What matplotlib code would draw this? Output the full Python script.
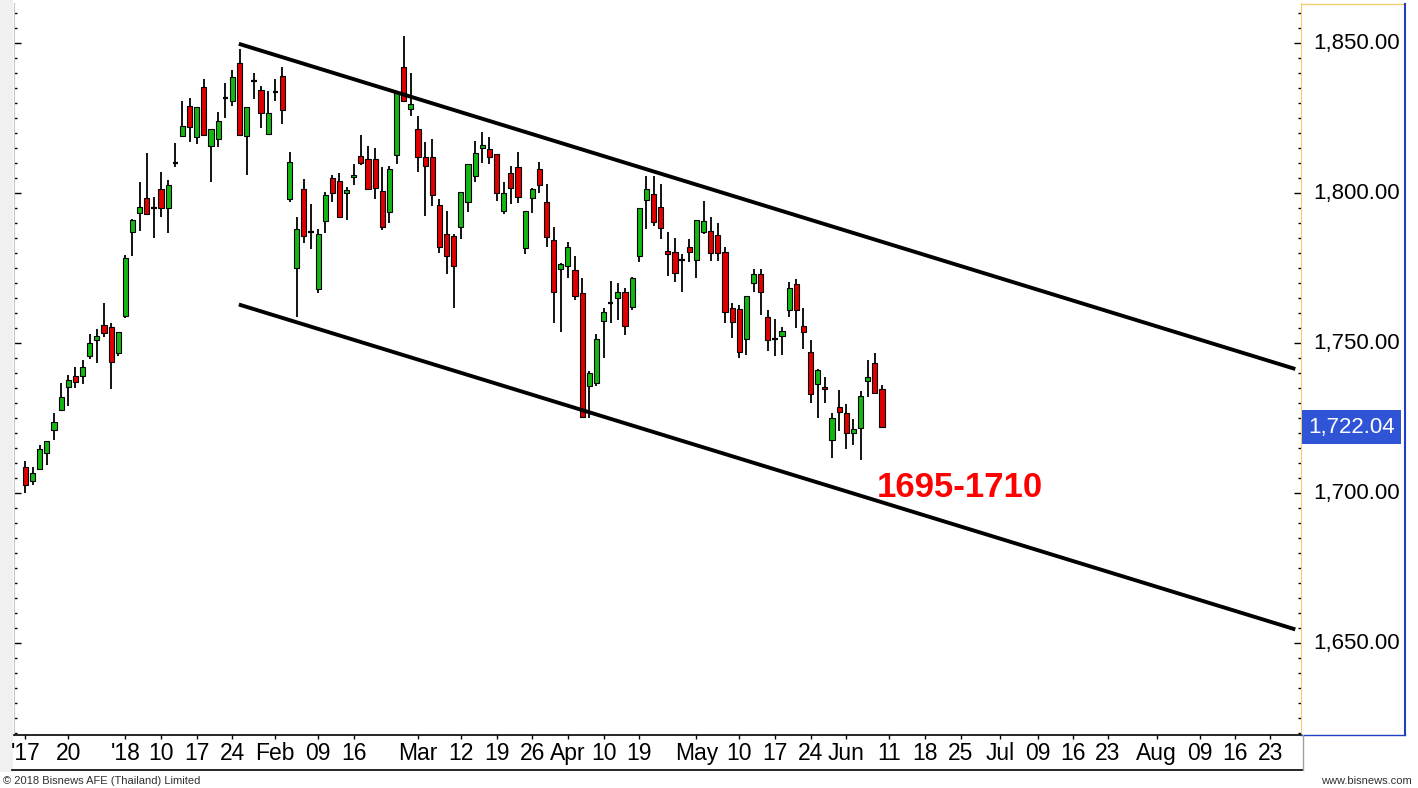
import numpy as np
import matplotlib
matplotlib.use("Agg")
import matplotlib.pyplot as plt
from matplotlib.ticker import MultipleLocator, FixedLocator, FuncFormatter
from matplotlib.transforms import blended_transform_factory
from matplotlib.lines import Line2D
from matplotlib.patches import Rectangle

# ---------------- data ----------------
opens = [1708.9, 1704.2, 1708.1, 1713.5, 1721.1, 1727.6, 1735.5, 1739.2, 1739.2, 1745.6,
         1751.1, 1756.0, 1755.5, 1746.7, 1759.2, 1787.1, 1793.4, 1798.3, 1795.0, 1801.4,
         1795.0, 1810.0, 1819.2, 1829.0, 1818.7, 1835.5, 1815.8, 1818.0, 1831.9, 1830.9,
         1843.3, 1819.1, 1837.5, 1834.4, 1819.9, 1833.7, 1839.2, 1798.0, 1775.0, 1801.4,
         1787.2, 1768.0, 1790.8, 1805.0, 1804.1, 1800.0, 1805.3, 1812.4, 1811.4, 1811.4,
         1800.8, 1793.7, 1812.7, 1842.0, 1828.1, 1821.4, 1812.2, 1812.2, 1796.1, 1786.3,
         1785.6, 1788.9, 1797.2, 1805.8, 1815.0, 1814.6, 1813.0, 1794.2, 1806.9, 1808.9,
         1781.7, 1798.3, 1808.2, 1797.1, 1784.4, 1774.8, 1775.6, 1774.4, 1766.7, 1735.8,
         1736.7, 1757.5, 1763.5, 1765.2, 1767.0, 1762.0, 1779.2, 1797.8, 1799.7, 1795.5,
         1780.8, 1780.3, 1777.8, 1782.2, 1777.6, 1787.0, 1787.3, 1786.0, 1780.3, 1761.7,
         1761.3, 1751.3, 1770.2, 1773.0, 1758.9, 1751.4, 1752.4, 1761.1, 1769.7, 1755.8,
         1747.2, 1736.4, 1735.5, 1717.8, 1728.9, 1726.7, 1720.0, 1721.7, 1737.4, 1743.3,
         1734.8]
highs = [1710.8, 1708.7, 1716.1, 1717.5, 1726.9, 1736.7, 1739.4, 1742.0, 1744.4, 1753.0,
         1754.6, 1763.3, 1756.7, 1753.8, 1779.4, 1791.5, 1803.9, 1813.3, 1798.9, 1807.0,
         1804.4, 1816.7, 1830.8, 1831.7, 1828.7, 1838.0, 1821.4, 1827.2, 1836.7, 1841.1,
         1848.0, 1828.7, 1840.0, 1835.8, 1834.1, 1838.0, 1842.0, 1813.9, 1792.0, 1804.7,
         1796.3, 1788.0, 1800.4, 1806.1, 1806.7, 1802.0, 1809.8, 1819.4, 1815.6, 1815.0,
         1808.7, 1809.1, 1833.3, 1852.5, 1840.2, 1825.6, 1817.0, 1818.0, 1798.0, 1794.2,
         1786.4, 1800.3, 1809.8, 1817.4, 1820.5, 1818.7, 1813.0, 1803.9, 1809.1, 1813.7,
         1794.2, 1801.7, 1810.5, 1803.0, 1788.9, 1776.9, 1783.9, 1779.1, 1771.7, 1740.9,
         1753.1, 1761.7, 1770.6, 1770.0, 1768.3, 1772.0, 1795.0, 1805.8, 1805.8, 1803.1,
         1787.2, 1785.2, 1779.8, 1784.7, 1791.1, 1797.4, 1792.2, 1790.0, 1782.0, 1763.3,
         1762.8, 1765.9, 1774.8, 1774.8, 1761.1, 1758.0, 1755.5, 1770.3, 1771.3, 1761.9,
         1751.1, 1741.3, 1738.9, 1726.7, 1734.4, 1729.8, 1724.7, 1734.2, 1744.4, 1746.7,
         1736.1]
lows = [1700.2, 1702.8, 1707.6, 1709.4, 1717.6, 1727.6, 1729.1, 1735.0, 1736.3, 1744.7,
        1743.5, 1752.2, 1734.7, 1745.8, 1758.3, 1779.2, 1787.4, 1793.1, 1785.0, 1792.0,
        1786.7, 1808.9, 1818.9, 1817.0, 1816.3, 1819.4, 1803.7, 1815.3, 1825.0, 1829.2,
        1819.4, 1806.1, 1831.4, 1821.7, 1819.9, 1830.9, 1823.0, 1797.1, 1758.7, 1783.3,
        1781.3, 1766.9, 1786.7, 1797.2, 1792.2, 1791.1, 1802.8, 1809.4, 1801.3, 1798.0,
        1787.8, 1790.2, 1809.7, 1830.6, 1825.8, 1807.2, 1792.4, 1795.6, 1780.2, 1773.0,
        1761.9, 1784.7, 1793.9, 1803.6, 1810.0, 1809.7, 1797.5, 1793.1, 1796.4, 1796.9,
        1779.8, 1793.3, 1800.2, 1782.2, 1756.9, 1753.9, 1771.7, 1764.4, 1725.3, 1725.0,
        1735.6, 1745.0, 1756.7, 1757.8, 1752.8, 1761.1, 1777.2, 1788.1, 1789.1, 1784.7,
        1772.5, 1770.3, 1767.2, 1777.0, 1771.7, 1786.3, 1777.4, 1777.4, 1756.9, 1751.7,
        1745.0, 1746.1, 1767.2, 1759.4, 1747.4, 1745.6, 1746.1, 1758.9, 1755.0, 1748.0,
        1730.0, 1725.2, 1730.0, 1711.9, 1720.6, 1714.8, 1716.1, 1711.1, 1732.2, 1733.1,
        1722.0]
closes = [1702.8, 1706.9, 1714.8, 1717.5, 1723.7, 1732.2, 1737.9, 1737.0, 1742.0, 1750.2,
          1752.4, 1753.3, 1743.8, 1753.8, 1778.5, 1791.1, 1795.5, 1793.1, 1795.0, 1795.2,
          1802.8, 1810.0, 1822.5, 1822.2, 1828.7, 1819.4, 1821.4, 1824.0, 1831.9, 1838.9,
          1819.4, 1828.7, 1837.5, 1826.9, 1826.9, 1833.7, 1827.8, 1810.3, 1788.2, 1785.9,
          1787.2, 1786.3, 1799.3, 1800.2, 1792.2, 1801.0, 1806.0, 1810.0, 1801.3, 1801.7,
          1788.9, 1808.2, 1833.3, 1830.6, 1829.9, 1812.2, 1809.1, 1799.4, 1782.0, 1779.1,
          1775.8, 1800.3, 1809.8, 1813.3, 1816.1, 1812.0, 1800.0, 1800.0, 1801.9, 1798.7,
          1794.2, 1801.3, 1802.8, 1785.3, 1767.0, 1776.3, 1782.2, 1765.6, 1725.3, 1740.0,
          1751.3, 1760.5, 1763.5, 1767.0, 1755.8, 1771.7, 1795.0, 1801.3, 1790.3, 1788.5,
          1779.7, 1773.3, 1777.8, 1780.3, 1791.1, 1790.8, 1780.0, 1780.0, 1760.3, 1757.2,
          1747.0, 1765.9, 1773.0, 1767.0, 1751.1, 1751.4, 1754.1, 1768.3, 1761.1, 1753.9,
          1733.0, 1741.1, 1734.8, 1725.0, 1727.2, 1720.0, 1721.3, 1732.5, 1738.6, 1733.3,
          1722.04]

# x-axis labels (trading-day index where each label sits)
tick_index = [0, 6, 14, 19, 24, 29, 35, 41, 46, 55, 61, 66, 71, 76, 81, 86, 94, 100, 105,
              110, 115, 121, 126, 131, 136.5, 141.8, 146.7, 151.6, 158.5, 164.6, 169.5, 174.4]
tick_labels = ["'17", "20", "'18", "10", "17", "24", "Feb", "09", "16", "Mar", "12", "19",
               "26", "Apr", "10", "19", "May", "10", "17", "24", "Jun", "11", "18", "25",
               "Jul", "09", "16", "23", "Aug", "09", "16", "23"]

# channel lines (start / end index and price)
channel_x = [29.9, 177.9]
channel_upper = [1849.8, 1741.4]
channel_lower = [1762.9, 1654.6]

target_text = "1695-1710"
target_pos = (130.9, 1701.8)

# ---------------- drawing ----------------
W, H = 1418, 788
FONT = ["Liberation Sans", "DejaVu Sans"]
plt.rcParams["font.family"] = FONT

fig = plt.figure(figsize=(W / 100, H / 100), dpi=100)
fig.patch.set_facecolor("white")

# left gray strip
fig.add_artist(Rectangle((0, (H - 772) / H), 13 / W, 772 / H, transform=fig.transFigure,
                         facecolor="#f0f0f0", edgecolor="none", zorder=0))

ax = fig.add_axes([14 / W, 53 / H, 1287 / W, 732 / H])
ax.set_facecolor("white")

n = len(opens)
x = np.arange(n)
o = np.array(opens); h = np.array(highs); l = np.array(lows); c = np.array(closes)

GREEN = "#14b814"
RED = "#e00000"
ax.vlines(x, l, h, color="black", lw=1.3, zorder=2)
doji = np.abs(c - o) < 0.05
body = ~doji
cols = np.where(c >= o, GREEN, RED)
ax.bar(x[body], np.abs(c - o)[body], bottom=np.minimum(o, c)[body], width=0.72,
       color=cols[body], edgecolor="black", linewidth=0.8, zorder=3)
ax.hlines(o[doji], x[doji] - 0.38, x[doji] + 0.38, color="black", lw=1.6, zorder=3)

ax.plot(channel_x, channel_upper, color="black", lw=2.8, zorder=4, solid_capstyle="butt")
ax.plot(channel_x, channel_lower, color="black", lw=2.8, zorder=4, solid_capstyle="butt")

ax.text(target_pos[0], target_pos[1], target_text, color="#ff0000", fontsize=25,
        fontweight="bold", ha="center", va="center", zorder=5, family=FONT)

ax.set_xlim(-1.6, 178.7)
ax.set_ylim(1619.4, 1863.4)

# y axis on the right
ax.yaxis.set_major_locator(MultipleLocator(50))
ax.yaxis.set_minor_locator(MultipleLocator(5))
ax.yaxis.set_major_formatter(FuncFormatter(lambda v, p: f"{v:,.2f}"))
ax.tick_params(axis="y", which="both", left=True, right=True, labelleft=False,
               labelright=True, direction="in", color="black")
ax.tick_params(axis="y", which="major", length=5, width=1, labelsize=16, pad=9)
ax.tick_params(axis="y", which="minor", length=2, width=1)
for t in ax.get_yticklabels():
    t.set_verticalalignment("center")

# x axis
ax.xaxis.set_major_locator(FixedLocator(tick_index))
ax.set_xticklabels(tick_labels)
ax.tick_params(axis="x", which="major", direction="out", length=3, width=1,
               labelsize=16.5, pad=2, color="black")

ax.spines["top"].set_visible(False)
ax.spines["left"].set_color("#c8c8c8")
ax.spines["right"].set_color("#f0d070")
ax.spines["bottom"].set_color("black")
ax.spines["bottom"].set_linewidth(1.2)

# current price box
trans = blended_transform_factory(ax.transAxes, ax.transData)
ax.text(1.0 + 7 / 1287, closes[-1], f"{closes[-1]:,.2f}", transform=trans, color="white",
        fontsize=16, ha="left", va="center", zorder=6, clip_on=False,
        bbox=dict(boxstyle="square,pad=0.28", facecolor="#2f55d6", edgecolor="none"))

# frame lines
def fline(x0, y0, x1, y1, color, lw=1.0):
    fig.add_artist(Line2D([x0 / W, x1 / W], [(H - y0) / H, (H - y1) / H],
                          transform=fig.transFigure, color=color, lw=lw))

fline(1301, 4, 1405, 4, "#f0d070")
fline(1405, 4, 1405, 735, "#2040c0", 1.5)
fline(1301, 735, 1405, 735, "#2040c0", 1.0)
fline(12, 770, 1303, 770, "black", 1.2)
fline(1303, 735, 1303, 770, "#a0a0a0", 1.0)

# footer
fig.text(3 / W, (H - 781) / H, "\u00a9 2018 Bisnews AFE (Thailand) Limited", fontsize=8,
         color="#303030", ha="left", va="center", family=FONT)
fig.text(1412 / W, (H - 781) / H, "www.bisnews.com", fontsize=8, color="#303030",
         ha="right", va="center", family=FONT)

fig.savefig("out.png", dpi=100, facecolor="white")
